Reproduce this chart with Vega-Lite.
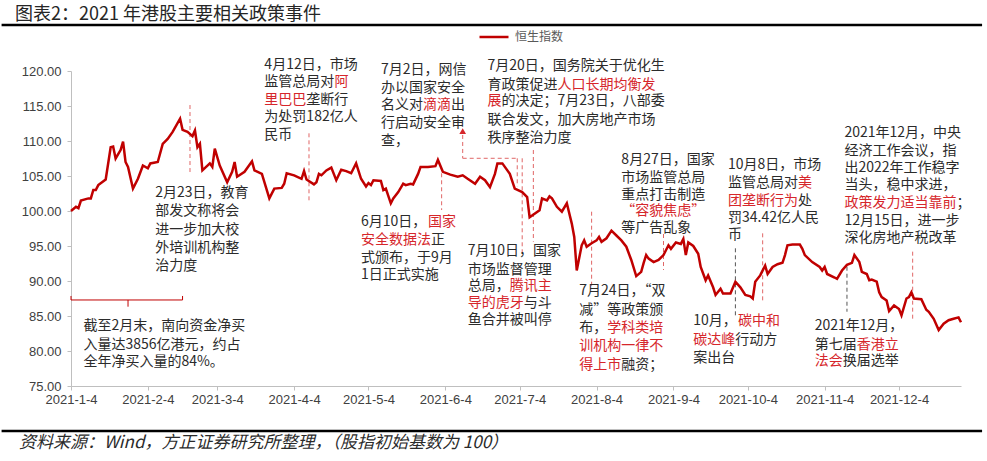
{
  "$schema": "https://vega.github.io/schema/vega-lite/v6.json",
  "width": 890,
  "height": 315,
  "autosize": {"type": "none"},
  "padding": {"left": 71, "top": 71, "right": 26, "bottom": 75},
  "background": "white",
  "config": {
    "view": {"stroke": null},
    "axis": {"grid": false, "title": null, "domainColor": "#bfbfbf", "tickColor": "#bfbfbf", "labelColor": "#404040", "labelFont": "Liberation Sans", "labelFontSize": 13, "tickSize": 4}
  },
  "datasets": {
    "hsi": [
      {"d": "2021-01-04", "v": 100.0}, {"d": "2021-01-06", "v": 100.6}, {"d": "2021-01-07", "v": 100.4}, {"d": "2021-01-08", "v": 101.5},
      {"d": "2021-01-11", "v": 101.8}, {"d": "2021-01-12", "v": 101.8}, {"d": "2021-01-13", "v": 103.0}, {"d": "2021-01-14", "v": 103.0},
      {"d": "2021-01-15", "v": 103.7}, {"d": "2021-01-18", "v": 104.5}, {"d": "2021-01-20", "v": 109.1}, {"d": "2021-01-21", "v": 109.2},
      {"d": "2021-01-22", "v": 107.5}, {"d": "2021-01-24", "v": 108.7}, {"d": "2021-01-25", "v": 109.9}, {"d": "2021-01-26", "v": 107.0},
      {"d": "2021-01-27", "v": 106.3}, {"d": "2021-01-29", "v": 103.2}, {"d": "2021-01-31", "v": 104.6}, {"d": "2021-02-02", "v": 106.5},
      {"d": "2021-02-04", "v": 106.1}, {"d": "2021-02-05", "v": 106.8}, {"d": "2021-02-08", "v": 107.0}, {"d": "2021-02-10", "v": 109.6},
      {"d": "2021-02-12", "v": 110.3}, {"d": "2021-02-14", "v": 111.3}, {"d": "2021-02-17", "v": 113.2}, {"d": "2021-02-18", "v": 111.6},
      {"d": "2021-02-20", "v": 111.3}, {"d": "2021-02-22", "v": 110.7}, {"d": "2021-02-23", "v": 111.5}, {"d": "2021-02-24", "v": 109.1},
      {"d": "2021-02-25", "v": 109.6}, {"d": "2021-02-26", "v": 105.8}, {"d": "2021-03-01", "v": 106.8}, {"d": "2021-03-02", "v": 106.3},
      {"d": "2021-03-03", "v": 108.9}, {"d": "2021-03-05", "v": 106.5}, {"d": "2021-03-08", "v": 104.1}, {"d": "2021-03-10", "v": 105.6},
      {"d": "2021-03-11", "v": 107.0}, {"d": "2021-03-12", "v": 104.9}, {"d": "2021-03-15", "v": 105.6}, {"d": "2021-03-18", "v": 107.1},
      {"d": "2021-03-19", "v": 105.8}, {"d": "2021-03-22", "v": 105.3}, {"d": "2021-03-25", "v": 101.8}, {"d": "2021-03-27", "v": 103.2},
      {"d": "2021-03-30", "v": 103.3}, {"d": "2021-03-31", "v": 103.9}, {"d": "2021-04-01", "v": 105.4}, {"d": "2021-04-04", "v": 105.1},
      {"d": "2021-04-07", "v": 104.6}, {"d": "2021-04-08", "v": 105.7}, {"d": "2021-04-09", "v": 104.5}, {"d": "2021-04-12", "v": 103.8},
      {"d": "2021-04-13", "v": 104.1}, {"d": "2021-04-14", "v": 105.3}, {"d": "2021-04-15", "v": 105.1}, {"d": "2021-04-17", "v": 105.8},
      {"d": "2021-04-19", "v": 106.2}, {"d": "2021-04-21", "v": 104.4}, {"d": "2021-04-23", "v": 105.9}, {"d": "2021-04-25", "v": 105.7},
      {"d": "2021-04-27", "v": 105.4}, {"d": "2021-04-29", "v": 106.8}, {"d": "2021-05-01", "v": 104.6}, {"d": "2021-05-03", "v": 103.5},
      {"d": "2021-05-04", "v": 104.0}, {"d": "2021-05-05", "v": 103.7}, {"d": "2021-05-06", "v": 104.4}, {"d": "2021-05-09", "v": 104.3},
      {"d": "2021-05-10", "v": 103.0}, {"d": "2021-05-11", "v": 103.2}, {"d": "2021-05-13", "v": 101.1}, {"d": "2021-05-14", "v": 101.8},
      {"d": "2021-05-16", "v": 102.7}, {"d": "2021-05-18", "v": 103.9}, {"d": "2021-05-19", "v": 103.7}, {"d": "2021-05-21", "v": 103.9},
      {"d": "2021-05-22", "v": 103.8}, {"d": "2021-05-24", "v": 105.3}, {"d": "2021-05-25", "v": 106.3}, {"d": "2021-05-28", "v": 106.3},
      {"d": "2021-05-31", "v": 106.4}, {"d": "2021-06-01", "v": 107.3}, {"d": "2021-06-03", "v": 105.6}, {"d": "2021-06-06", "v": 105.2},
      {"d": "2021-06-09", "v": 104.9}, {"d": "2021-06-11", "v": 105.1}, {"d": "2021-06-13", "v": 104.6}, {"d": "2021-06-16", "v": 103.9},
      {"d": "2021-06-18", "v": 104.9}, {"d": "2021-06-20", "v": 104.4}, {"d": "2021-06-22", "v": 103.4}, {"d": "2021-06-24", "v": 105.3},
      {"d": "2021-06-25", "v": 106.8}, {"d": "2021-06-27", "v": 106.8}, {"d": "2021-06-30", "v": 105.3}, {"d": "2021-07-02", "v": 103.2},
      {"d": "2021-07-05", "v": 102.7}, {"d": "2021-07-07", "v": 102.0}, {"d": "2021-07-08", "v": 99.1}, {"d": "2021-07-10", "v": 99.6},
      {"d": "2021-07-12", "v": 100.1}, {"d": "2021-07-13", "v": 101.8}, {"d": "2021-07-15", "v": 101.5}, {"d": "2021-07-16", "v": 102.1},
      {"d": "2021-07-17", "v": 101.8}, {"d": "2021-07-19", "v": 100.6}, {"d": "2021-07-21", "v": 99.9}, {"d": "2021-07-23", "v": 101.1},
      {"d": "2021-07-25", "v": 98.2}, {"d": "2021-07-26", "v": 96.3}, {"d": "2021-07-27", "v": 91.5}, {"d": "2021-07-29", "v": 95.1},
      {"d": "2021-07-30", "v": 95.8}, {"d": "2021-07-31", "v": 94.9}, {"d": "2021-08-02", "v": 95.4}, {"d": "2021-08-04", "v": 95.8},
      {"d": "2021-08-05", "v": 96.3}, {"d": "2021-08-06", "v": 95.6}, {"d": "2021-08-08", "v": 96.1}, {"d": "2021-08-10", "v": 97.2},
      {"d": "2021-08-12", "v": 96.5}, {"d": "2021-08-14", "v": 95.8}, {"d": "2021-08-16", "v": 94.9}, {"d": "2021-08-18", "v": 93.0},
      {"d": "2021-08-20", "v": 90.7}, {"d": "2021-08-22", "v": 91.3}, {"d": "2021-08-23", "v": 92.6}, {"d": "2021-08-24", "v": 93.7},
      {"d": "2021-08-25", "v": 93.2}, {"d": "2021-08-27", "v": 92.7}, {"d": "2021-08-29", "v": 93.0}, {"d": "2021-08-31", "v": 93.7},
      {"d": "2021-09-02", "v": 95.1}, {"d": "2021-09-03", "v": 94.6}, {"d": "2021-09-05", "v": 95.5}, {"d": "2021-09-07", "v": 95.3},
      {"d": "2021-09-08", "v": 96.0}, {"d": "2021-09-09", "v": 93.7}, {"d": "2021-09-10", "v": 95.5}, {"d": "2021-09-12", "v": 95.0},
      {"d": "2021-09-14", "v": 93.9}, {"d": "2021-09-15", "v": 92.0}, {"d": "2021-09-17", "v": 90.1}, {"d": "2021-09-18", "v": 90.8},
      {"d": "2021-09-20", "v": 89.1}, {"d": "2021-09-21", "v": 88.0}, {"d": "2021-09-23", "v": 88.9}, {"d": "2021-09-24", "v": 88.2},
      {"d": "2021-09-27", "v": 88.2}, {"d": "2021-09-29", "v": 89.9}, {"d": "2021-10-01", "v": 89.1}, {"d": "2021-10-03", "v": 88.0},
      {"d": "2021-10-05", "v": 87.8}, {"d": "2021-10-06", "v": 87.5}, {"d": "2021-10-07", "v": 89.9}, {"d": "2021-10-09", "v": 90.8},
      {"d": "2021-10-11", "v": 92.2}, {"d": "2021-10-12", "v": 91.0}, {"d": "2021-10-14", "v": 92.0}, {"d": "2021-10-16", "v": 92.4},
      {"d": "2021-10-18", "v": 92.6}, {"d": "2021-10-19", "v": 93.7}, {"d": "2021-10-20", "v": 95.1}, {"d": "2021-10-22", "v": 95.2},
      {"d": "2021-10-25", "v": 95.2}, {"d": "2021-10-26", "v": 94.6}, {"d": "2021-10-27", "v": 93.7}, {"d": "2021-10-30", "v": 92.7},
      {"d": "2021-11-02", "v": 92.0}, {"d": "2021-11-03", "v": 91.5}, {"d": "2021-11-04", "v": 92.0}, {"d": "2021-11-05", "v": 91.0},
      {"d": "2021-11-08", "v": 90.5}, {"d": "2021-11-09", "v": 90.3}, {"d": "2021-11-11", "v": 91.5}, {"d": "2021-11-13", "v": 92.3},
      {"d": "2021-11-15", "v": 92.6}, {"d": "2021-11-16", "v": 93.7}, {"d": "2021-11-18", "v": 92.7}, {"d": "2021-11-19", "v": 91.3},
      {"d": "2021-11-21", "v": 91.0}, {"d": "2021-11-22", "v": 90.1}, {"d": "2021-11-23", "v": 90.2}, {"d": "2021-11-25", "v": 89.9},
      {"d": "2021-11-26", "v": 88.4}, {"d": "2021-11-27", "v": 87.7}, {"d": "2021-11-29", "v": 87.2}, {"d": "2021-11-30", "v": 85.7},
      {"d": "2021-12-02", "v": 86.5}, {"d": "2021-12-04", "v": 86.0}, {"d": "2021-12-05", "v": 85.1}, {"d": "2021-12-07", "v": 87.5},
      {"d": "2021-12-08", "v": 87.7}, {"d": "2021-12-09", "v": 88.4}, {"d": "2021-12-10", "v": 87.5}, {"d": "2021-12-13", "v": 87.4},
      {"d": "2021-12-15", "v": 85.9}, {"d": "2021-12-16", "v": 85.6}, {"d": "2021-12-18", "v": 84.6}, {"d": "2021-12-20", "v": 83.0},
      {"d": "2021-12-22", "v": 83.9}, {"d": "2021-12-24", "v": 84.4}, {"d": "2021-12-26", "v": 84.6}, {"d": "2021-12-28", "v": 84.8},
      {"d": "2021-12-29", "v": 84.1}
    ],
    "sep": [
      {"d": "2020-12-07", "d2": "2022-01-06T12:00:00Z", "v": 126.57},
      {"d": "2020-12-07", "d2": "2022-01-06T12:00:00Z", "v": 68.57}
    ],
    "ev": [
      {"d": "2021-02-21", "v": 115.14, "v2": 105.14},
      {"d": "2021-04-10", "v": 111.1, "v2": 101.1},
      {"d": "2021-06-02T12:00:00Z", "v": 105.39, "v2": 100.14},
      {"d": "2021-06-11", "v": 110.86, "v2": 107.53},
      {"d": "2021-07-03", "v": 107.53, "v2": 103.5},
      {"d": "2021-07-05", "v": 107.53, "v2": 93.96},
      {"d": "2021-07-09T12:00:00Z", "v": 108.71, "v2": 95.61},
      {"d": "2021-08-02", "v": 99.9, "v2": 89.19},
      {"d": "2021-08-31", "v": 96.71, "v2": 91.57},
      {"d": "2021-10-10", "v": 96.81, "v2": 86.81},
      {"d": "2021-12-09T12:00:00Z", "v": 94.19, "v2": 84.43}
    ],
    "ev2": [
      {"d": "2021-09-29", "v": 94.67, "v2": 84.67},
      {"d": "2021-11-13", "v": 92.04, "v2": 85.61}
    ],
    "conn": [
      {"d": "2021-06-11", "d2": "2021-07-03", "v": 107.53}
    ],
    "arrowhead": [
      {"d": "2021-06-11", "v": 111.4}
    ],
    "brh": [
      {"d": "2021-01-04", "d2": "2021-02-18", "v": 87.29}
    ],
    "brv": [
      {"d": "2021-01-04", "v": 87.29, "v2": 87.86},
      {"d": "2021-02-18", "v": 87.29, "v2": 87.86},
      {"d": "2021-01-27", "v": 87.29, "v2": 86.33}
    ],
    "notes": [
      {"d": "2021-03-23", "v": 120.34, "t": "4月12日，市场", "hl": false},
      {"d": "2021-03-23", "v": 117.83, "t": "监管总局对", "hl": false},
      {"d": "2021-04-20T05:45:00Z", "v": 117.83, "t": "阿", "hl": true},
      {"d": "2021-03-23", "v": 115.31, "t": "里巴巴", "hl": true},
      {"d": "2021-04-08T22:34:00Z", "v": 115.31, "t": "垄断行", "hl": false},
      {"d": "2021-03-23", "v": 112.8, "t": "为处罚182亿人", "hl": false},
      {"d": "2021-03-23", "v": 110.29, "t": "民币", "hl": false},

      {"d": "2021-02-07", "v": 102.0, "t": "2月23日，教育", "hl": false},
      {"d": "2021-02-07", "v": 99.39, "t": "部发文称将会", "hl": false},
      {"d": "2021-02-07", "v": 96.77, "t": "进一步加大校", "hl": false},
      {"d": "2021-02-07", "v": 94.14, "t": "外培训机构整", "hl": false},
      {"d": "2021-02-07", "v": 91.53, "t": "治力度", "hl": false},

      {"d": "2021-01-09", "v": 82.96, "t": "截至2月末，南向资金净买", "hl": false},
      {"d": "2021-01-09", "v": 80.34, "t": "入量达3856亿港元，约占", "hl": false},
      {"d": "2021-01-09", "v": 77.86, "t": "全年净买入量的84%。", "hl": false},

      {"d": "2021-05-09", "v": 119.63, "t": "7月2日，网信", "hl": false},
      {"d": "2021-05-09", "v": 117.0, "t": "办以国家安全", "hl": false},
      {"d": "2021-05-09", "v": 114.63, "t": "名义对", "hl": false},
      {"d": "2021-05-25T22:34:00Z", "v": 114.63, "t": "滴滴", "hl": true},
      {"d": "2021-06-06T05:45:00Z", "v": 114.63, "t": "出", "hl": false},
      {"d": "2021-05-09", "v": 112.0, "t": "行启动安全审", "hl": false},
      {"d": "2021-05-09", "v": 109.39, "t": "查，", "hl": false},

      {"d": "2021-06-21", "v": 120.1, "t": "7月20日，国务院关于优化生", "hl": false},
      {"d": "2021-06-21", "v": 117.49, "t": "育政策促进", "hl": false},
      {"d": "2021-07-19T05:45:00Z", "v": 117.49, "t": "人口长期均衡发", "hl": true},
      {"d": "2021-06-21", "v": 115.1, "t": "展", "hl": true},
      {"d": "2021-06-26T15:32:00Z", "v": 115.1, "t": "的决定；7月23日，八部委", "hl": false},
      {"d": "2021-06-21", "v": 112.49, "t": "联合发文，加大房地产市场", "hl": false},
      {"d": "2021-06-21", "v": 109.86, "t": "秩序整治力度", "hl": false},

      {"d": "2021-05-01", "v": 97.86, "t": "6月10日，", "hl": false},
      {"d": "2021-05-28", "v": 97.86, "t": "国家", "hl": true},
      {"d": "2021-05-01", "v": 95.34, "t": "安全数据法", "hl": true},
      {"d": "2021-05-29T05:45:00Z", "v": 95.34, "t": "正", "hl": false},
      {"d": "2021-05-01", "v": 92.71, "t": "式颁布，于9月", "hl": false},
      {"d": "2021-05-01", "v": 90.34, "t": "1日正式实施", "hl": false},

      {"d": "2021-06-13", "v": 93.67, "t": "7月10日，国家", "hl": false},
      {"d": "2021-06-13", "v": 91.06, "t": "市场监督管理", "hl": false},
      {"d": "2021-06-13", "v": 88.67, "t": "总局，", "hl": false},
      {"d": "2021-06-29T22:34:00Z", "v": 88.67, "t": "腾讯主", "hl": true},
      {"d": "2021-06-13", "v": 86.29, "t": "导的虎牙", "hl": true},
      {"d": "2021-07-05T14:10:00Z", "v": 86.29, "t": "与斗", "hl": false},
      {"d": "2021-06-13", "v": 83.91, "t": "鱼合并被叫停", "hl": false},

      {"d": "2021-08-14", "v": 106.77, "t": "8月27日，国家", "hl": false},
      {"d": "2021-08-14", "v": 104.14, "t": "市场监管总局", "hl": false},
      {"d": "2021-08-14", "v": 101.77, "t": "重点打击制造", "hl": false},
      {"d": "2021-08-14", "v": 99.39, "t": "“容貌焦虑”", "hl": true},
      {"d": "2021-08-14", "v": 97.0, "t": "等广告乱象", "hl": false},

      {"d": "2021-07-28", "v": 87.96, "t": "7月24日，“双", "hl": false},
      {"d": "2021-07-28", "v": 85.34, "t": "减”等政策颁", "hl": false},
      {"d": "2021-07-28", "v": 82.71, "t": "布，", "hl": false},
      {"d": "2021-08-08T07:05:00Z", "v": 82.71, "t": "学科类培", "hl": true},
      {"d": "2021-07-28", "v": 80.1, "t": "训机构一律不", "hl": true},
      {"d": "2021-07-28", "v": 77.49, "t": "得上市", "hl": true},
      {"d": "2021-08-13T22:34:00Z", "v": 77.49, "t": "融资；", "hl": false},

      {"d": "2021-09-26", "v": 106.06, "t": "10月8日，市场", "hl": false},
      {"d": "2021-09-26", "v": 103.43, "t": "监管总局对", "hl": false},
      {"d": "2021-10-24T05:45:00Z", "v": 103.43, "t": "美", "hl": true},
      {"d": "2021-09-26", "v": 100.81, "t": "团垄断行为", "hl": true},
      {"d": "2021-10-24T05:45:00Z", "v": 100.81, "t": "处", "hl": false},
      {"d": "2021-09-26", "v": 98.43, "t": "罚34.42亿人民", "hl": false},
      {"d": "2021-09-26", "v": 96.06, "t": "币", "hl": false},

      {"d": "2021-09-12", "v": 83.67, "t": "10月，", "hl": false},
      {"d": "2021-09-30", "v": 83.67, "t": "碳中和", "hl": true},
      {"d": "2021-09-12", "v": 81.06, "t": "碳达峰", "hl": true},
      {"d": "2021-09-28T22:34:00Z", "v": 81.06, "t": "行动方", "hl": false},
      {"d": "2021-09-12", "v": 78.43, "t": "案出台", "hl": false},

      {"d": "2021-11-12", "v": 110.57, "t": "2021年12月，中央", "hl": false},
      {"d": "2021-11-12", "v": 107.96, "t": "经济工作会议，指", "hl": false},
      {"d": "2021-11-12", "v": 105.57, "t": "出2022年工作稳字", "hl": false},
      {"d": "2021-11-12", "v": 103.2, "t": "当头，稳中求进，", "hl": false},
      {"d": "2021-11-12", "v": 100.57, "t": "政策发力适当靠前", "hl": true},
      {"d": "2021-12-27T04:19:00Z", "v": 100.57, "t": "；", "hl": false},
      {"d": "2021-11-12", "v": 97.96, "t": "12月15日，进一步", "hl": false},
      {"d": "2021-11-12", "v": 95.57, "t": "深化房地产税改革", "hl": false},

      {"d": "2021-10-31", "v": 82.96, "t": "2021年12月，", "hl": false},
      {"d": "2021-10-31", "v": 80.34, "t": "第七届", "hl": false},
      {"d": "2021-11-16T22:34:00Z", "v": 80.34, "t": "香港立", "hl": true},
      {"d": "2021-10-31", "v": 77.96, "t": "法会", "hl": true},
      {"d": "2021-11-11T07:05:00Z", "v": 77.96, "t": "换届选举", "hl": false}
    ],
    "ttl": [
      {"d": "2020-12-12T09:36:00Z", "v": 127.29, "t": "图表2：2021 年港股主要相关政策事件"}
    ],
    "src": [
      {"d": "2020-12-14", "v": 66.11, "t": "资料来源：Wind，方正证券研究所整理，（股指初始基数为 100）"}
    ]
  },
  "encoding": {
    "x": {
      "field": "d", "type": "temporal",
      "scale": {"type": "utc", "nice": false, "domain": [{"year": 2021, "month": 1, "date": 4, "utc": true}, {"year": 2021, "month": 12, "date": 29, "utc": true}]},
      "axis": {
        "values": [
          {"year": 2021, "month": 1, "date": 4, "utc": true}, {"year": 2021, "month": 2, "date": 4, "utc": true},
          {"year": 2021, "month": 3, "date": 4, "utc": true}, {"year": 2021, "month": 4, "date": 4, "utc": true},
          {"year": 2021, "month": 5, "date": 4, "utc": true}, {"year": 2021, "month": 6, "date": 4, "utc": true},
          {"year": 2021, "month": 7, "date": 4, "utc": true}, {"year": 2021, "month": 8, "date": 4, "utc": true},
          {"year": 2021, "month": 9, "date": 4, "utc": true}, {"year": 2021, "month": 10, "date": 4, "utc": true},
          {"year": 2021, "month": 11, "date": 4, "utc": true}, {"year": 2021, "month": 12, "date": 4, "utc": true}
        ],
        "format": "%Y-%-m-%-d", "labelOverlap": false, "labelFlush": false, "labelPadding": 3
      }
    },
    "y": {
      "field": "v", "type": "quantitative",
      "scale": {"domain": [75, 120], "nice": false, "zero": false},
      "axis": {"values": [75, 80, 85, 90, 95, 100, 105, 110, 115, 120], "format": ".2f", "labelPadding": 6}
    }
  },
  "layer": [
    {"data": {"name": "sep"}, "mark": {"type": "rule", "color": "#000000", "strokeWidth": 2.5}, "encoding": {"x2": {"field": "d2"}}},
    {"data": {"name": "ev"}, "mark": {"type": "rule", "color": "#e06666", "strokeWidth": 1, "strokeDash": [4, 3]}, "encoding": {"y2": {"field": "v2"}}},
    {"data": {"name": "ev2"}, "mark": {"type": "rule", "color": "#555555", "strokeWidth": 1, "strokeDash": [4, 3]}, "encoding": {"y2": {"field": "v2"}}},
    {"data": {"name": "conn"}, "mark": {"type": "rule", "color": "#e06666", "strokeWidth": 1, "strokeDash": [4, 3]}, "encoding": {"x2": {"field": "d2"}}},
    {"data": {"name": "brh"}, "mark": {"type": "rule", "color": "#c00000", "strokeWidth": 1}, "encoding": {"x2": {"field": "d2"}}},
    {"data": {"name": "brv"}, "mark": {"type": "rule", "color": "#c00000", "strokeWidth": 1}, "encoding": {"y2": {"field": "v2"}}},
    {
      "data": {"name": "hsi"},
      "mark": {"type": "line", "strokeWidth": 2.5, "interpolate": "linear"},
      "encoding": {
        "color": {
          "datum": "恒生指数",
          "scale": {"range": ["#c00000"]},
          "legend": {"orient": "none", "legendX": 407, "legendY": -50, "title": null, "symbolType": "stroke", "symbolSize": 841, "symbolStrokeWidth": 2.5, "labelFont": "Noto Sans CJK SC", "labelFontSize": 12, "labelColor": "#595959", "labelOffset": 5, "padding": 0}
        }
      }
    },
    {"data": {"name": "arrowhead"}, "mark": {"type": "point", "shape": "triangle-up", "filled": true, "color": "#d6262b", "size": 45, "opacity": 1}},
    {
      "data": {"name": "notes"},
      "mark": {"type": "text", "align": "left", "baseline": "alphabetic", "font": "Noto Sans CJK SC", "fontSize": 14},
      "encoding": {
        "text": {"field": "t"},
        "color": {"condition": {"test": "datum.hl", "value": "#d6262b"}, "value": "#2b2b2b"}
      }
    },
    {
      "data": {"name": "ttl"},
      "mark": {"type": "text", "align": "left", "baseline": "alphabetic", "font": "Noto Sans CJK SC", "fontSize": 18, "color": "#262626"},
      "encoding": {"text": {"field": "t"}}
    },
    {
      "data": {"name": "src"},
      "mark": {"type": "text", "align": "left", "baseline": "alphabetic", "font": "Noto Sans CJK SC", "fontSize": 17, "fontStyle": "italic", "color": "#2b2b2b"},
      "encoding": {"text": {"field": "t"}}
    }
  ]
}
